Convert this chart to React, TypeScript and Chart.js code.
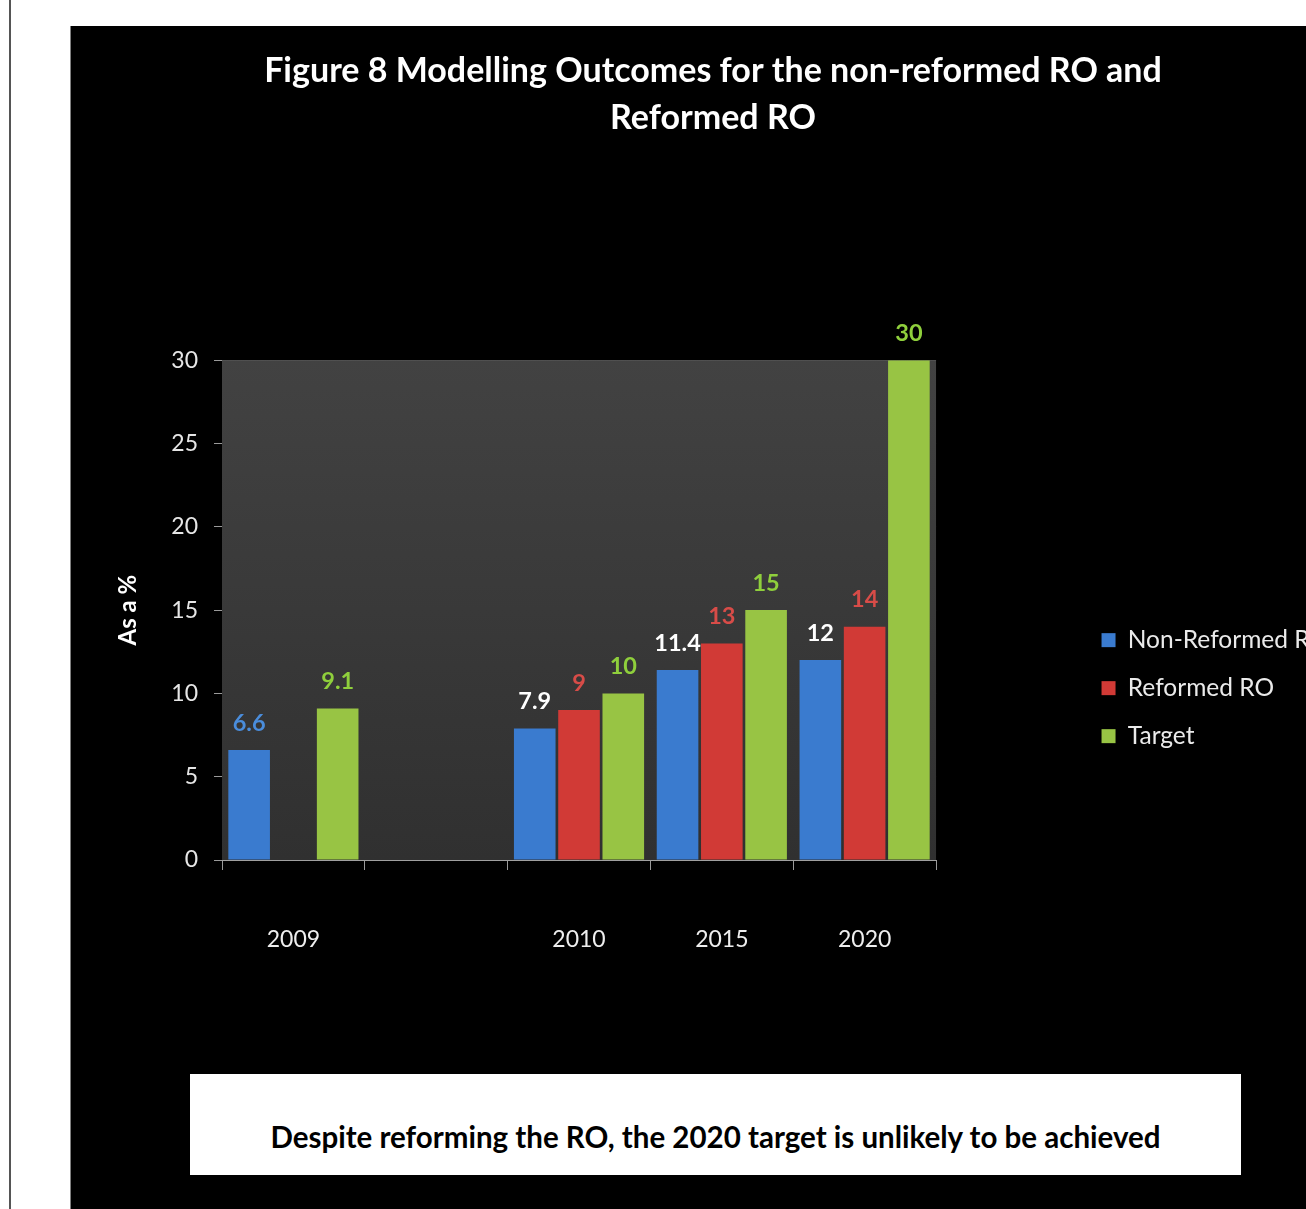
import React, { useEffect, useRef } from 'react';
import { Chart, registerables } from 'chart.js';

Chart.register(...registerables);

const FONT = "Lato, 'Open Sans', sans-serif";

const titleLines = ['Figure 8 Modelling Outcomes for the non-reformed RO and', 'Reformed RO'];
const categories = ['2009', '', '2010', '2015', '2020'];
const nonReformed = [6.6, null, 7.9, 11.4, 12];
const reformed = [null, null, 9, 13, 14];
const target = [9.1, null, 10, 15, 30];
const seriesNames = ['Non-Reformed RO', 'Reformed RO', 'Target'];
const seriesColors = ['#3a7bcf', '#d13a36', '#98c444'];
const nonReformedLabelColors = ['#4a8ddc', '#ffffff', '#ffffff', '#ffffff', '#ffffff'];
const reformedLabelColors = ['#d84c48', '#d84c48', '#d84c48', '#d84c48', '#d84c48'];
const targetLabelColors = ['#8fcf3c', '#8fcf3c', '#8fcf3c', '#8fcf3c', '#8fcf3c'];
const labelColorSets = [nonReformedLabelColors, reformedLabelColors, targetLabelColors];
const yAxisTitle = 'As a %';
const footnote = 'Despite reforming the RO, the 2020 target is unlikely to be achieved';

const plotBackground = {
  id: 'plotBackground',
  beforeDatasetsDraw(chart: any) {
    const { ctx, chartArea } = chart;
    ctx.save();
    const g = ctx.createLinearGradient(0, chartArea.top, 0, chartArea.bottom);
    g.addColorStop(0, '#424242');
    g.addColorStop(1, '#303030');
    ctx.fillStyle = g;
    ctx.fillRect(chartArea.left, chartArea.top, chartArea.right - chartArea.left, chartArea.bottom - chartArea.top);
    ctx.restore();
  },
};

// centre the title over the whole canvas rather than the space left of the legend padding
const titleFullWidth = {
  id: 'titleFullWidth',
  afterLayout(chart: any) {
    const t = chart.titleBlock;
    if (t) {
      t.left = 0;
      t.right = chart.width;
    }
  },
};

const valueLabels = {
  id: 'valueLabels',
  afterDatasetsDraw(chart: any) {
    const { ctx } = chart;
    ctx.save();
    ctx.font = `bold 23.5px ${FONT}`;
    ctx.textAlign = 'center';
    ctx.textBaseline = 'middle';
    chart.data.datasets.forEach((ds: any, di: number) => {
      const meta = chart.getDatasetMeta(di);
      meta.data.forEach((el: any, i: number) => {
        const v = ds.data[i];
        if (v === null || v === undefined) return;
        ctx.fillStyle = labelColorSets[di][i];
        ctx.fillText(String(v), el.x, el.y - 27);
      });
    });
    ctx.restore();
  },
};

function ChartCanvas() {
  const ref = useRef<HTMLCanvasElement | null>(null);
  useEffect(() => {
    if (!ref.current) return;
    const chart = new Chart(ref.current, {
      type: 'bar',
      data: {
        labels: categories,
        datasets: [
          { label: seriesNames[0], data: nonReformed, backgroundColor: seriesColors[0], borderWidth: 0 },
          { label: seriesNames[1], data: reformed, backgroundColor: seriesColors[1], borderWidth: 0 },
          { label: seriesNames[2], data: target, backgroundColor: seriesColors[2], borderWidth: 0 },
        ],
      },
      options: {
        responsive: false,
        animation: false,
        datasets: { bar: { categoryPercentage: 0.93, barPercentage: 0.94 } },
        layout: { padding: { left: 0, right: 17, top: 0, bottom: 0 } },
        plugins: {
          title: {
            display: true,
            text: titleLines,
            color: '#ffffff',
            font: { family: FONT, size: 34, weight: 'bold', lineHeight: 1.37 },
            padding: { top: 22, bottom: 219 },
          },
          legend: {
            position: 'right',
            align: 'start',
            maxWidth: 320,
            title: { display: true, text: ' ', padding: { top: 564, bottom: 0 }, font: { size: 12 } },
            labels: {
              color: '#eaeaea',
              font: { family: FONT, size: 24.5 },
              boxWidth: 14,
              boxHeight: 14,
              padding: 23.5,
            },
          },
          tooltip: { enabled: false },
        },
        scales: {
          x: {
            grid: { display: true, drawOnChartArea: false, drawTicks: true, tickLength: 10, color: '#9a9a9a' },
            border: { color: '#a0a0a0' },
            ticks: { color: '#eeeeee', font: { family: FONT, size: 23 }, padding: 56 },
            afterFit: (s: any) => { s.height = 206; },
          },
          y: {
            min: 0,
            max: 30,
            ticks: { stepSize: 5, color: '#e6e6e6', font: { family: FONT, size: 23 }, padding: 16 },
            grid: { color: '#9a9a9a', tickLength: 8 },
            border: { color: '#a0a0a0' },
            title: {
              display: true,
              text: yAxisTitle,
              color: '#ffffff',
              font: { family: FONT, size: 24, weight: 'bold' },
              padding: { top: 44, bottom: 0 },
            },
            afterFit: (s: any) => { s.width = 152; },
          },
          yRight: {
            position: 'right',
            display: true,
            ticks: { display: false },
            grid: { display: false },
            border: { display: false },
            afterFit: (s: any) => { s.width = 142; },
          },
        },
      },
      plugins: [plotBackground, titleFullWidth, valueLabels],
    } as any);
    return () => chart.destroy();
  }, []);
  return <canvas ref={ref} width={1286} height={1040} style={{ position: 'absolute', left: 0, top: 0, width: 1286, height: 1040 }} />;
}

export default function App() {
  return (
    <div>
      <div style={{ position: 'absolute', left: 9, top: 0, width: 2, height: 1209, background: '#555' }} />
      <div
        style={{
          position: 'absolute',
          left: 70,
          top: 26,
          width: 1236,
          height: 1183,
          background: '#000',
          overflow: 'hidden',
          boxShadow: 'inset 1px 0 0 #808080',
        }}
      >
        <ChartCanvas />
        <div
          style={{
            position: 'absolute',
            left: 120,
            top: 1048,
            width: 1051,
            height: 101,
            background: '#fff',
            boxSizing: 'border-box',
            paddingTop: 45,
            textAlign: 'center',
            fontFamily: FONT,
            fontWeight: 'bold',
            fontSize: 29.5,
            lineHeight: '36px',
            color: '#000',
          }}
        >
          {footnote}
        </div>
      </div>
    </div>
  );
}
